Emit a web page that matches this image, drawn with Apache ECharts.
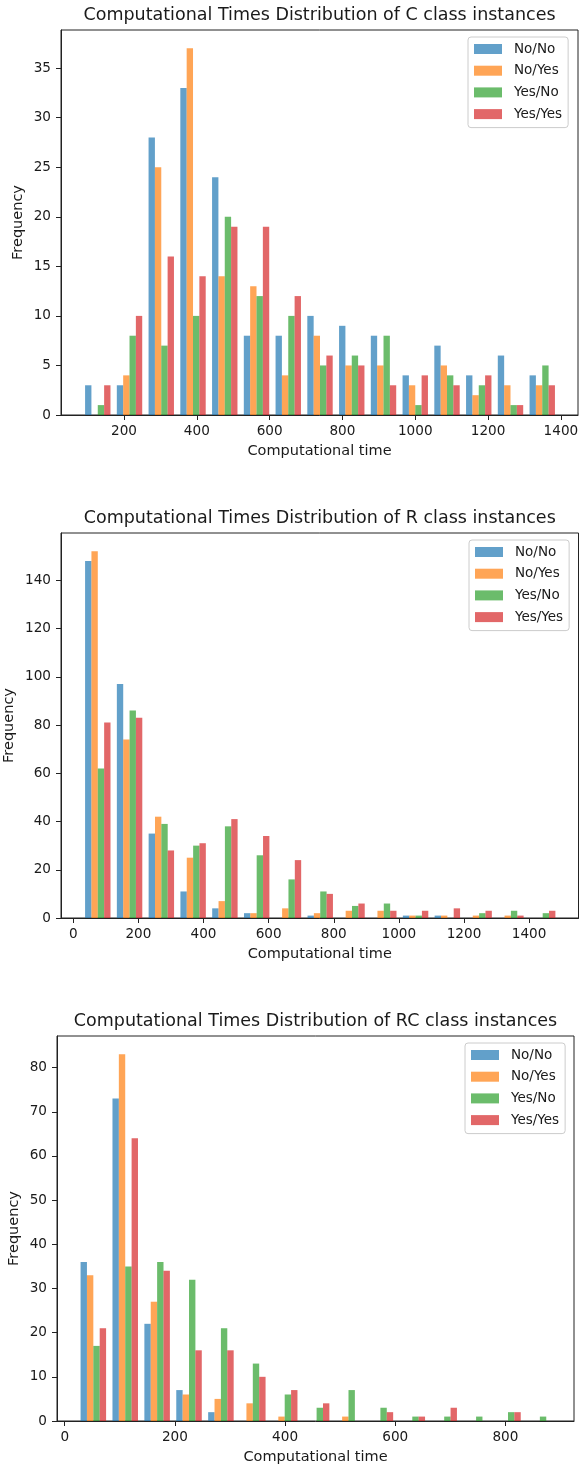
<!DOCTYPE html>
<html><head><meta charset="utf-8">
<script src="https://cdn.jsdelivr.net/npm/echarts@6/dist/echarts.min.js"></script>
<style>html,body{margin:0;padding:0;background:#fff}#main{width:579px;height:1467px}</style>
</head><body><div id="main"></div>
<script>
const seriesNames = ['No/No', 'No/Yes', 'Yes/No', 'Yes/Yes'];
const seriesColors = ['rgba(31,119,180,0.7)', 'rgba(255,127,14,0.7)', 'rgba(44,160,44,0.7)', 'rgba(214,39,40,0.7)'];
const xAxisName = 'Computational time';
const yAxisName = 'Frequency';
const nBins = 15;

// ---- C class ----
const cTitle = 'Computational Times Distribution of C class instances';
const cBinRange = [84.4, 1392.4];
const cNoNo   = [3, 3, 28, 33, 24, 8, 8, 10, 9, 8, 4, 7, 4, 6, 4];
const cNoYes  = [0, 4, 25, 37, 14, 13, 4, 8, 5, 5, 3, 5, 2, 3, 3];
const cYesNo  = [1, 8, 7, 10, 20, 12, 10, 5, 6, 8, 1, 4, 3, 1, 5];
const cYesYes = [3, 10, 16, 14, 19, 19, 12, 6, 5, 3, 4, 3, 4, 1, 3];
const cXTicks = [200, 400, 600, 800, 1000, 1200, 1400];
const cYTicks = [0, 5, 10, 15, 20, 25, 30, 35];
const cXExtent = [27, 1447];
const cYMax = 38.85;

// ---- R class ----
const rTitle = 'Computational Times Distribution of R class instances';
const rBinRange = [26.5, 1490.5];
const rNoNo   = [148, 97, 35, 11, 4, 2, 0, 1, 0, 0, 1, 1, 0, 0, 0];
const rNoYes  = [152, 74, 42, 25, 7, 2, 4, 2, 3, 3, 1, 1, 1, 1, 0];
const rYesNo  = [62, 86, 39, 30, 38, 26, 16, 11, 5, 6, 1, 0, 2, 3, 2];
const rYesYes = [81, 83, 28, 31, 41, 34, 24, 10, 6, 3, 3, 4, 3, 1, 3];
const rXTicks = [0, 200, 400, 600, 800, 1000, 1200, 1400];
const rYTicks = [0, 20, 40, 60, 80, 100, 120, 140];
const rXExtent = [-37.7, 1551.7];
const rYMax = 159.6;

// ---- RC class ----
const rcTitle = 'Computational Times Distribution of RC class instances';
const rcBinRange = [23, 891.5];
const rcNoNo   = [36, 73, 22, 7, 2, 0, 0, 0, 0, 0, 0, 0, 0, 0, 0];
const rcNoYes  = [33, 83, 27, 6, 5, 4, 1, 0, 1, 0, 0, 0, 0, 0, 0];
const rcYesNo  = [17, 35, 36, 32, 21, 13, 6, 3, 7, 3, 1, 1, 1, 2, 1];
const rcYesYes = [21, 64, 34, 16, 16, 10, 7, 4, 0, 2, 1, 3, 0, 2, 0];
const rcXTicks = [0, 200, 400, 600, 800];
const rcYTicks = [0, 10, 20, 30, 40, 50, 60, 70, 80];
const rcXExtent = [-14, 924.5];
const rcYMax = 87.15;

const FONT = "'DejaVu Sans', sans-serif";
const TXT = '#1a1a1a';

const panels = [
  {title: cTitle, range: cBinRange, vals: [cNoNo, cNoYes, cYesNo, cYesYes], xTicks: cXTicks, yTicks: cYTicks, xExt: cXExtent, yMax: cYMax,
   grid: {left: 61, top: 30, width: 517, height: 385}, titleTop: 5, legend: {left: 468, top: 37}, yNameGap: 35.5},
  {title: rTitle, range: rBinRange, vals: [rNoNo, rNoYes, rYesNo, rYesYes], xTicks: rXTicks, yTicks: rYTicks, xExt: rXExtent, yMax: rYMax,
   grid: {left: 61, top: 533, width: 517.5, height: 385}, titleTop: 508, legend: {left: 469, top: 540}, yNameGap: 44.5},
  {title: rcTitle, range: rcBinRange, vals: [rcNoNo, rcNoYes, rcYesNo, rcYesYes], xTicks: rcXTicks, yTicks: rcYTicks, xExt: rcXExtent, yMax: rcYMax,
   grid: {left: 57, top: 1036, width: 517, height: 385}, titleTop: 1011, legend: {left: 465, top: 1043}, yNameGap: 35}
];

function binData(range, vals) {
  const w = (range[1] - range[0]) / nBins;
  return vals.map((v, i) => [range[0] + i * w, range[0] + (i + 1) * w, v]);
}

function makeRender(k) {
  return function (params, api) {
    const x0 = api.value(0), x1 = api.value(1), v = api.value(2);
    if (!v) return null;
    const bw = x1 - x0;
    const a = x0 + bw * (0.1 + 0.2 * k);
    const b = a + bw * 0.2;
    const p0 = api.coord([a, v]);
    const p1 = api.coord([b, 0]);
    return {
      type: 'rect',
      shape: {x: p0[0], y: p0[1], width: p1[0] - p0[0], height: p1[1] - p0[1]},
      style: {fill: seriesColors[k]}
    };
  };
}

const plain = v => String(v);

const option = {
  animation: false,
  backgroundColor: '#fff',
  title: [], legend: [], grid: [], xAxis: [], yAxis: [], series: []
};

panels.forEach((p, gi) => {
  option.title.push({
    text: p.title, left: p.grid.left + p.grid.width / 2, top: p.titleTop, textAlign: 'center', padding: 0,
    textStyle: {fontFamily: FONT, fontSize: 17.5, fontWeight: 'normal', color: TXT, lineHeight: 20}
  });
  option.grid.push(Object.assign({show: true, borderColor: '#222', borderWidth: 1, backgroundColor: 'transparent',
    containLabel: false, outerBoundsMode: 'none'}, p.grid));
  option.legend.push({
    data: seriesNames, left: p.legend.left, top: p.legend.top, orient: 'vertical', icon: 'rect',
    itemWidth: 28, itemHeight: 10, itemGap: 6.7, selectedMode: false,
    backgroundColor: 'rgba(255,255,255,0.8)', borderColor: '#cccccc', borderWidth: 1, borderRadius: 3,
    padding: [4.5, 6, 6, 6],
    textStyle: {fontFamily: FONT, fontSize: 13.5, color: TXT, lineHeight: 15, padding: [0, 0, 0, 7]}
  });
  option.xAxis.push({
    type: 'value', gridIndex: gi, min: p.xExt[0], max: p.xExt[1], z: 5,
    name: xAxisName, nameLocation: 'middle', nameGap: 29, nameMoveOverlap: false,
    nameTextStyle: {fontFamily: FONT, fontSize: 14.5, color: TXT},
    axisLine: {show: true, onZero: false, lineStyle: {color: '#222', width: 1}},
    axisTick: {show: true, length: 5, customValues: p.xTicks, lineStyle: {color: '#222', width: 1}},
    axisLabel: {customValues: p.xTicks, formatter: plain, margin: 9, fontFamily: FONT, fontSize: 13.6, color: TXT},
    splitLine: {show: false}
  });
  option.yAxis.push({
    type: 'value', gridIndex: gi, min: 0, max: p.yMax, z: 5,
    name: yAxisName, nameLocation: 'middle', nameGap: p.yNameGap, nameRotate: 90, nameMoveOverlap: false,
    nameTextStyle: {fontFamily: FONT, fontSize: 14.5, color: TXT},
    axisLine: {show: true, onZero: false, lineStyle: {color: '#222', width: 1}},
    axisTick: {show: true, length: 5, customValues: p.yTicks, lineStyle: {color: '#222', width: 1}},
    axisLabel: {customValues: p.yTicks, formatter: plain, margin: 10, fontFamily: FONT, fontSize: 13.6, color: TXT},
    splitLine: {show: false}
  });
  p.vals.forEach((vals, k) => {
    option.series.push({
      type: 'custom', name: seriesNames[k], xAxisIndex: gi, yAxisIndex: gi,
      renderItem: makeRender(k), clip: true,
      itemStyle: {color: seriesColors[k]},
      encode: {x: [0, 1], y: 2},
      data: binData(p.range, vals)
    });
  });
});

const chart = echarts.init(document.getElementById('main'), null, {renderer: 'canvas'});
chart.setOption(option);
</script>
</body></html>
